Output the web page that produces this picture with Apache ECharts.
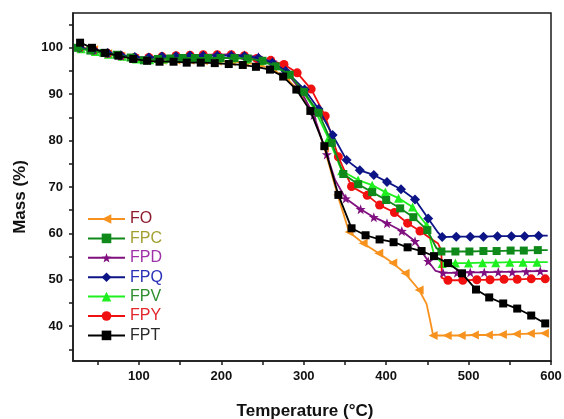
<!DOCTYPE html>
<html>
<head>
<meta charset="utf-8">
<script src="https://cdn.jsdelivr.net/npm/echarts@6/dist/echarts.min.js"></script>
<style>
html,body{margin:0;padding:0;background:#fff;}
#chart{width:564px;height:419px;}
</style>
</head>
<body>
<div id="chart"></div>
<script>
// ---- data ----
const seriesNames = ['FO','FPC','FPD','FPQ','FPV','FPY','FPT'];
const xTickLabels = [100,200,300,400,500,600];
const xMinorTicks = [50,100,150,200,250,300,350,400,450,500,550,600];
const yTickLabels = [40,50,60,70,80,90,100];
const yMinorTicks = [35,40,45,50,55,60,65,70,75,80,85,90,95,100,105];

// marker points [temperature, mass]
const foMarks = [[28,100.2],[45,99.6],[62,98.7],[78,98.2],[95,97.7],[112,97.4],[128,97.3],[145,97.3],[162,97.3],[178,97.2],[195,97.1],[212,97.0],[228,96.8],[245,96.4],[262,95.4],[278,93.6],[295,90.6],[311,86.0],[325,78.4],[341,68.3],[355,60.3],[372,57.9],[391,55.7],[408,53.6],[423,51.4],[440,47.8],[457,38.0],[474,38.0],[491,38.0],[507,38.1],[524,38.1],[541,38.2],[558,38.3],[575,38.4],[592,38.5]];
const foBends = [[449,44.8],[453,41.5],[596,38.5]];

const fpcMarks = [[26,100],[41,99.4],[57,98.9],[73,98.5],[90,97.9],[106,97.3],[123,97.6],[138,97.7],[153,97.8],[168,97.8],[184,97.8],[199,97.8],[216,97.8],[232,97.7],[250,97.2],[266,96.0],[283,94.2],[300,90.5],[318,86.0],[334,79.5],[348,72.8],[366,70.6],[383,68.9],[400,67.2],[417,65.4],[433,63.5],[450,60.7],[467,56.1],[484,56.1],[501,56.1],[518,56.2],[534,56.2],[551,56.3],[567,56.3],[584,56.4]];
const fpcBends = [[461,56.8],[596,56.4]];

const fpdMarks = [[28,100],[45,99.5],[62,98.8],[78,98.3],[95,97.9],[112,97.8],[128,98.0],[145,98.2],[162,98.3],[178,98.4],[195,98.5],[212,98.5],[228,98.4],[245,98.0],[262,97.0],[278,95.0],[295,91.2],[312,85.5],[328,77.0],[351,67.5],[369,65.2],[385,63.5],[401,62.2],[419,60.5],[435,58.3],[451,54.0],[469,51.5],[486,51.5],[502,51.6],[519,51.6],[536,51.7],[553,51.7],[570,51.8],[587,51.9]];
const fpdBends = [[338,71.5],[460,51.9],[596,51.9]];

const fpqMarks = [[28,100],[45,99.6],[62,98.9],[78,98.4],[95,98.0],[112,97.9],[128,98.1],[145,98.2],[162,98.3],[178,98.3],[195,98.3],[212,98.3],[228,98.2],[245,97.8],[262,96.8],[278,95.0],[301,91.0],[318,86.8],[335,81.2],[352,75.8],[368,73.6],[385,72.6],[401,71.1],[418,69.5],[435,67.3],[451,63.2],[468,59.2],[485,59.3],[502,59.3],[518,59.3],[535,59.4],[552,59.4],[568,59.4],[585,59.5]];
const fpqBends = [[462,60.4],[596,59.5]];

const fpvMarks = [[30,99.8],[47,99.2],[63,98.6],[80,98.2],[97,97.6],[113,97.4],[130,97.6],[147,97.7],[163,97.8],[180,97.8],[197,97.8],[213,97.8],[230,97.6],[247,97.2],[263,96.2],[280,94.4],[297,91.0],[313,86.8],[330,80.5],[346,73.5],[366,71.5],[383,70.4],[399,68.9],[415,67.6],[432,65.7],[449,61.8],[468,53.5],[484,53.6],[500,53.6],[517,53.7],[533,53.7],[550,53.8],[566,53.8],[583,53.8]];
const fpvBends = [[458,55.5],[596,53.8]];

const fpyMarks = [[28,100],[45,99.5],[62,98.8],[78,98.3],[95,97.9],[112,97.9],[128,98.1],[145,98.3],[162,98.4],[178,98.5],[195,98.5],[212,98.5],[228,98.3],[243,97.7],[260,97.3],[276,96.4],[292,94.6],[309,91.1],[326,85.3],[342,76.5],[358,70.1],[377,68.2],[392,66.1],[410,64.5],[426,62.2],[441,60.5],[475,49.9],[493,49.9],[510,50.0],[526,50.0],[543,50.1],[559,50.1],[576,50.2],[593,50.2]];
const fpyBends = [[453,59.0],[463,57.8],[467,56.3],[467.5,50.4]];

const fptMarks = [[28.6,101.1],[43,100],[59,98.9],[75,98.3],[93,97.6],[110,97.2],[125,97.0],[142,97.0],[158,96.8],[175,96.8],[192,96.7],[209,96.5],[226,96.3],[242,95.9],[259,95.3],[275,93.8],[291,91.0],[308,86.4],[325,78.8],[342,68.3],[358,61.1],[375,59.6],[392,58.7],[409,58.1],[426,57.0],[443,56.2],[458,55.1],[475,53.6],[492,51.4],[509,47.9],[525,46.2],[542,44.9],[559,43.8],[576,42.3],[593,40.6]];
const fptBends = [];

// ---- styles ----
const starPath = 'path://M0,-10L2.35,-3.24L9.51,-3.09L3.8,1.24L5.88,8.09L0,4L-5.88,8.09L-3.8,1.24L-9.51,-3.09L-2.35,-3.24Z';
const cfg = {
  FO:  {marks: foMarks,  bends: foBends,  color:'#f7921e', symbol:'triangle', rotate:90, size:9, text:'#8e1c2c', z:2},
  FPC: {marks: fpcMarks, bends: fpcBends, color:'#0f8a1a', symbol:'rect', rotate:0, size:8, text:'#a3a032', z:7},
  FPD: {marks: fpdMarks, bends: fpdBends, color:'#80107f', symbol:starPath, rotate:0, size:10, text:'#a032a8', z:5},
  FPQ: {marks: fpqMarks, bends: fpqBends, color:'#0c1486', symbol:'diamond', rotate:0, size:10, text:'#2830b8', z:6},
  FPV: {marks: fpvMarks, bends: fpvBends, color:'#1eef1e', symbol:'triangle', rotate:0, size:9, text:'#2e8e2e', z:3},
  FPY: {marks: fpyMarks, bends: fpyBends, color:'#f01010', symbol:'circle', rotate:0, size:9, text:'#e2262a', z:4},
  FPT: {marks: fptMarks, bends: fptBends, color:'#000000', symbol:'rect', rotate:0, size:8, text:'#2a2a2a', z:8}
};

function buildData(marks, bends) {
  const pts = marks.map(p => ({value: p}))
    .concat(bends.map(p => ({value: p, symbol: 'none'})));
  pts.sort((a, b) => (a.value[0] - b.value[0]) || (b.value[1] - a.value[1]));
  return pts;
}

const series = seriesNames.map(n => {
  const c = cfg[n];
  return {
    name: n,
    type: 'line',
    data: buildData(c.marks, c.bends),
    symbol: c.symbol,
    symbolSize: c.size,
    symbolRotate: c.rotate,
    showAllSymbol: true,
    z: c.z,
    itemStyle: {color: c.color},
    lineStyle: {color: c.color, width: 1.8},
    animation: false
  };
});

const axisColor = '#1a1a1a';
const labelFont = {fontFamily: 'Liberation Sans, Arial, sans-serif', fontWeight: 'bold', fontSize: 13, color: '#111'};

const chart = echarts.init(document.getElementById('chart'), null, {renderer: 'canvas'});
chart.setOption({
  backgroundColor: '#ffffff',
  animation: false,
  grid: {left: 73, right: 13, top: 13, bottom: 58, containLabel: false, outerBoundsMode: 'none', show: true, borderColor: axisColor, borderWidth: 1.5, backgroundColor: 'transparent'},
  legend: {
    orient: 'vertical',
    left: 82,
    top: 206,
    itemWidth: 37,
    itemHeight: 12,
    itemGap: 3.4,
    data: seriesNames.map(n => ({name: n, textStyle: {color: cfg[n].text}})),
    textStyle: {fontFamily: 'Liberation Sans, Arial, sans-serif', fontSize: 16},
    selectedMode: false
  },
  xAxis: {
    type: 'value',
    min: 20,
    max: 600,
    name: 'Temperature (°C)',
    nameLocation: 'middle',
    nameGap: 42,
    nameTextStyle: {fontFamily: 'Liberation Sans, Arial, sans-serif', fontWeight: 'bold', fontSize: 17, color: '#111', padding: [0, 14, 0, 0]},
    axisLine: {show: true, lineStyle: {color: axisColor, width: 1.5}},
    axisTick: {show: true, inside: false, length: 4, lineStyle: {color: axisColor, width: 1.5}, customValues: xMinorTicks},
    axisLabel: Object.assign({margin: 9, customValues: xTickLabels}, labelFont),
    splitLine: {show: false}
  },
  yAxis: {
    type: 'value',
    min: 32.5,
    max: 107.5,
    name: 'Mass (%)',
    nameLocation: 'middle',
    nameGap: 44,
    nameRotate: 90,
    nameTextStyle: {fontFamily: 'Liberation Sans, Arial, sans-serif', fontWeight: 'bold', fontSize: 17, color: '#111', padding: [0, 20, 0, 0]},
    axisLine: {show: true, lineStyle: {color: axisColor, width: 1.5}},
    axisTick: {show: true, inside: false, length: 4, lineStyle: {color: axisColor, width: 1.5}, customValues: yMinorTicks},
    axisLabel: Object.assign({margin: 10, customValues: yTickLabels}, labelFont),
    splitLine: {show: false}
  },
  series: series
});
</script>
</body>
</html>
